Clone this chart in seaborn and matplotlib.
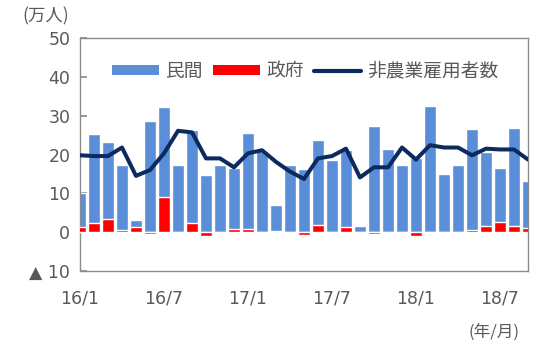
import numpy as np
import pandas as pd
import matplotlib
matplotlib.use("Agg")
import matplotlib.pyplot as plt
from matplotlib.patches import Patch
from matplotlib.lines import Line2D
import seaborn as sns

months = ["16/1", "16/2", "16/3", "16/4", "16/5", "16/6", "16/7", "16/8", "16/9", "16/10", "16/11", "16/12",
          "17/1", "17/2", "17/3", "17/4", "17/5", "17/6", "17/7", "17/8", "17/9", "17/10", "17/11", "17/12",
          "18/1", "18/2", "18/3", "18/4", "18/5", "18/6", "18/7", "18/8", "18/9"]
private = [8.9, 23.0, 20.0, 16.7, 1.9, 28.5, 23.2, 17.2, 23.8, 14.6, 17.2, 15.7,
           24.9, 20.9, 6.6, 17.2, 16.3, 21.8, 18.7, 19.8, 1.6, 27.4, 21.5, 17.2,
           19.0, 32.4, 15.1, 17.2, 25.9, 19.2, 13.8, 25.2, 12.0]
government = [1.3, 2.4, 3.3, 0.5, 1.3, -0.4, 9.1, 0.0, 2.4, -0.9, -0.2, 0.7,
              0.7, -0.3, 0.4, 0.0, -0.7, 1.9, 0.0, 1.3, -0.3, -0.5, -0.3, 0.0,
              -1.0, 0.0, 0.0, 0.0, 0.6, 1.5, 2.6, 1.6, 1.2]
nonfarm = [19.8, 19.6, 19.6, 21.8, 14.5, 16.0, 20.3, 26.1, 25.7, 19.0, 19.0, 16.7,
           20.3, 21.1, 18.1, 15.6, 13.7, 19.0, 19.6, 21.5, 14.1, 16.7, 16.7, 21.8,
           18.7, 22.4, 21.8, 21.8, 19.8, 21.5, 21.3, 21.3, 18.7]
tick_months = ["16/1", "16/7", "17/1", "17/7", "18/1", "18/7"]
yticks = [-10, 0, 10, 20, 30, 40, 50]
ytick_labels = ["▲ 10", "0", "10", "20", "30", "40", "50"]

BLUE = "#5B8ED8"
RED = "#FF0000"
NAVY = "#0B2A5E"
GRAY = "#595959"

sns.set_theme(style="white")
plt.rcParams["font.family"] = ["DejaVu Sans", "Noto Sans CJK JP"]

idx = np.arange(len(months))
df = pd.DataFrame({
    "i": idx,
    "month": months,
    "private": private,
    "gov": government,
    "nfp": nonfarm,
})
df["stack_top"] = df["private"] + df["gov"].clip(lower=0)

fig = plt.figure(figsize=(5.5, 3.47), dpi=100)
ax = fig.add_axes([80 / 550, 1 - 271 / 347, 448 / 550, 233 / 347])

sns.barplot(data=df, x="i", y="stack_top", color=BLUE, saturation=1, width=0.8,
            ax=ax, zorder=2)
sns.barplot(data=df, x="i", y="gov", color=RED, saturation=1, width=0.8,
            ax=ax, zorder=3)
sns.lineplot(data=df, x="i", y="nfp", color=NAVY, linewidth=2.9, ax=ax, zorder=4)

ax.set_xlim(0, len(months) - 1)
ax.set_ylim(-10, 50)
ax.set_xlabel("")
ax.set_ylabel("")

ax.set_xticks([months.index(m) for m in tick_months])
ax.set_xticklabels(tick_months, fontsize=12.5, color=GRAY)
ax.tick_params(axis="x", length=0, pad=13)
ax.set_yticks(yticks)
ax.set_yticklabels(ytick_labels, fontsize=12.5, color=GRAY)
ax.tick_params(axis="y", direction="in", length=5, color="#8C8C8C", left=True, pad=7)

for s in ax.spines.values():
    s.set_color("#8C8C8C")
    s.set_linewidth(1.0)
    s.set_visible(True)

handles = [
    Patch(facecolor=BLUE, edgecolor="none", label="民間"),
    Patch(facecolor=RED, edgecolor="none", label="政府"),
    Line2D([0], [0], color=NAVY, linewidth=3, label="非農業雇用者数"),
]
leg = ax.legend(handles=handles, loc="center", bbox_to_anchor=(0.503, 0.858), ncol=3,
                frameon=False, handlelength=2.5, handleheight=0.4,
                columnspacing=0.55, handletextpad=0.35,
                prop={"family": ["Noto Sans CJK JP"], "size": 13.5})
for t in leg.get_texts():
    t.set_color(GRAY)

fig.text(22 / 550, 1 - 16 / 347, "(万人)", fontsize=12.5, color=GRAY,
         family=["Noto Sans CJK JP"], ha="left", va="center")
fig.text(520 / 550, 1 - 332 / 347, "(年/月)", fontsize=12, color=GRAY,
         family=["Noto Sans CJK JP"], ha="right", va="center")

fig.savefig("out.png", dpi=100)
